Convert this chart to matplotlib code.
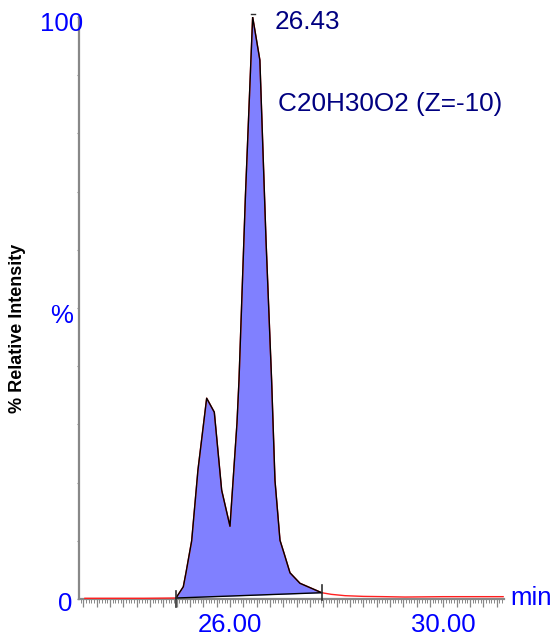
import numpy as np
import matplotlib
matplotlib.use("Agg")
import matplotlib.pyplot as plt
from matplotlib.ticker import MultipleLocator, NullFormatter

plt.rcParams['font.family'] = ['Liberation Sans', 'DejaVu Sans']

# ---- data ----
time = [23.28, 23.8, 24.4, 24.988, 25.125, 25.175, 25.282, 25.40, 25.563, 25.706,
        25.844, 26.00, 26.131, 26.169, 26.29, 26.425, 26.56, 26.675, 26.78, 26.843,
        26.937, 27.012, 27.125, 27.312, 27.719, 27.9, 28.156, 28.5, 28.905, 29.28,
        30.0, 31.12]
intensity = [0.12, 0.12, 0.12, 0.17, 2.1, 4.5, 10.0, 22.2, 34.5, 32.1,
             18.7, 12.5, 30.2, 37.6, 69.4, 100.0, 92.6, 61.7, 37.6, 20.4,
             10.1, 7.9, 4.5, 2.7, 1.08, 0.8, 0.57, 0.45, 0.4, 0.34,
             0.4, 0.4]
peak_start, peak_end = 24.988, 27.719
apex_time, apex_label = 26.425, "26.43"
compound = "C20H30O2 (Z=-10)"
x_label_pos = [26.0, 30.0]
x_tick_labels = ["26.00", "30.00"]
y_label_pos = [0, 50, 100]
y_tick_labels = ["0", "%", "100"]
y_label_offsets = [(-7, -5), (-6, -8), (3.7, -7)]

W, H = 556, 636
fig = plt.figure(figsize=(W / 100, H / 100), dpi=100)
ax = fig.add_axes([79 / W, (H - 599) / H, 425 / W, 582 / H])

t = np.array(time)
y = np.array(intensity)
ax.set_xlim(23.17, 31.136)
ax.set_ylim(0, 100)

# trace
ax.plot(t, y, color='#ff2020', lw=1.0, zorder=3)

# integrated peak
m = (t >= peak_start) & (t <= peak_end)
tp, yp = t[m], y[m]
base = np.interp(tp, [peak_start, peak_end], [y[t == peak_start][0], y[t == peak_end][0]])
ax.fill_between(tp, base, yp, color='#8080ff', lw=0, zorder=2)
ax.plot(tp, yp, color='black', lw=1.0, zorder=4)
ax.plot([peak_start, peak_end], [base[0], base[-1]], color='black', lw=1.0, zorder=4)
# start/end markers
ax.plot([peak_start, peak_start], [-1.4, 1.4], color='#303030', lw=1.2, zorder=5, clip_on=False)
ax.plot([peak_end, peak_end], [-0.2, 2.4], color='#303030', lw=1.2, zorder=5, clip_on=False)
ax.plot([apex_time - 0.035, apex_time + 0.035], [100.5, 100.5], color='#303030', lw=1.0,
        zorder=5, clip_on=False)

# spines
for s in ['top', 'right']:
    ax.spines[s].set_visible(False)
for s in ['left', 'bottom']:
    ax.spines[s].set_color('#888888')
    ax.spines[s].set_linewidth(1.6)

# x ticks
ax.xaxis.set_major_locator(MultipleLocator(0.25))
ax.xaxis.set_minor_locator(MultipleLocator(0.05))
ax.xaxis.set_major_formatter(NullFormatter())
ax.tick_params(axis='x', which='major', length=6, width=0.9, color='#888888')
ax.tick_params(axis='x', which='minor', length=3, width=0.7, color='#888888')
for pos, lab in zip(x_label_pos, x_tick_labels):
    ax.annotate(lab, xy=(pos, 0), xycoords=('data', 'data'), xytext=(0, -26),
                textcoords='offset pixels', ha='center', va='center',
                color='#0000ff', fontsize=18.5, annotation_clip=False)

# y ticks
ax.yaxis.set_major_locator(MultipleLocator(10))
ax.yaxis.set_major_formatter(NullFormatter())
ax.tick_params(axis='y', which='major', length=1.5, width=0.8, color='#888888')
for pos, lab, off in zip(y_label_pos, y_tick_labels, y_label_offsets):
    ax.annotate(lab, xy=(0, pos), xycoords=('axes fraction', 'data'), xytext=off,
                textcoords='offset pixels', ha='right', va='center',
                color='#0000ff', fontsize=18.5, annotation_clip=False)

ax.annotate('min', xy=(1, 0), xycoords=('axes fraction', 'data'), xytext=(6, 1),
            textcoords='offset pixels', ha='left', va='center',
            color='#0000ff', fontsize=18.5, annotation_clip=False)

# peak labels
ax.annotate(apex_label, xy=(apex_time, 100), xytext=(22, -5), textcoords='offset pixels',
            ha='left', va='center', color='#000080', fontsize=18.8, annotation_clip=False)
fig.text(278 / W, 1 - 104 / H, compound, ha='left', va='center', color='#000080',
         fontsize=18.8)

fig.text(18 / W, 1 - 328 / H, '% Relative Intensity', rotation=90, ha='center',
         va='center', fontsize=13, fontweight='bold', color='black')

fig.savefig('out.png', dpi=100)
